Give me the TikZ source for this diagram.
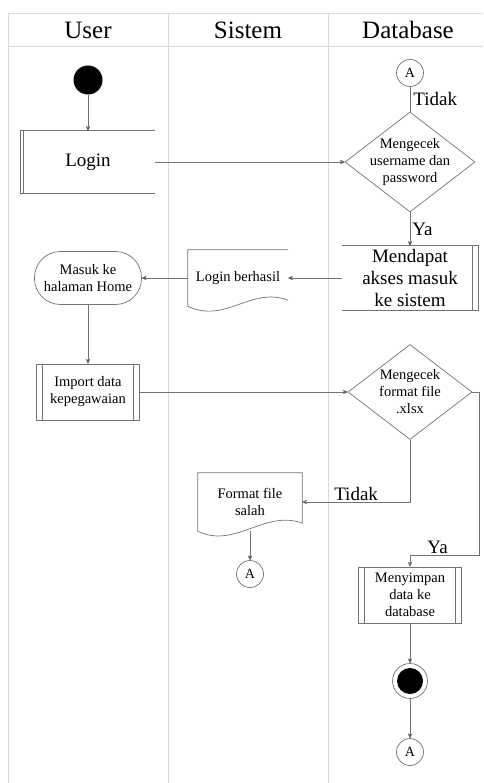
\documentclass[tikz,border=0pt]{standalone}
\usepackage{fontspec}
\setmainfont{Liberation Serif}
\usetikzlibrary{arrows,shapes.geometric}

\begin{document}
\begin{tikzpicture}[x=1pt,y=-1pt,>=stealth',auto,
    wire/.style={draw=black!55,line width=0.7pt},
    lane/.style={draw=black!15,line width=0.9pt},
    head/.style={font=\fontsize{25}{25}\selectfont},
    big/.style={font=\fontsize{19}{22}\selectfont},
    small/.style={font=\fontsize{14.5}{17}\selectfont},
    box/.style={rectangle,align=center,inner sep=0pt},
    proc/.style={box,small,wire,minimum width=103pt,minimum height=56pt,
      path picture={
        \draw[wire] ([xshift=6pt]path picture bounding box.north west) -- ([xshift=6pt]path picture bounding box.south west);
        \draw[wire] ([xshift=-6pt]path picture bounding box.north east) -- ([xshift=-6pt]path picture bounding box.south east);}},
    decision/.style={diamond,wire,small,align=center,inner sep=-14pt},
    conn/.style={circle,wire,fill=white,minimum size=27pt,inner sep=0pt,font=\fontsize{14}{14}\selectfont},
    initialdot/.style={circle,fill=black,minimum size=29pt,inner sep=0pt},
    finaldot/.style={circle,wire,minimum size=35pt,inner sep=0pt,
      path picture={\fill[black] (path picture bounding box.center) circle (13pt);}},
    lbl/.style={big,inner sep=1pt}]
  \useasboundingbox (0,0) rectangle (483,783);

  % lanes
  \draw[lane] (8,783) -- (8,13) -- (483,13);
  \draw[lane] (8,46) -- (483,46);
  \draw[lane] (168,13) -- (168,783);
  \draw[lane] (328,13) -- (328,783);
  \node[head] (user) at (88,30) {User};
  \node[head] (sistem) at (248,30) {Sistem};
  \node[head] (db) at (408,30) {Database};

  \node[initialdot] (start) at (88,80) {};
  \node[box,big,minimum width=134pt,minimum height=62pt] (login) [below of=start,node distance=82pt] {Login};
  \node[decision,minimum width=130pt,minimum height=100pt] (cek1) [right of=login,node distance=322pt] {Mengecek\\username dan\\password};
  \node[conn] (a1) [above of=cek1,node distance=89pt] {A};
  \node[box,big,minimum width=136pt,minimum height=64pt] (akses) [below of=cek1,node distance=116pt] {Mendapat\\akses masuk\\ke sistem};
  \node[box,small,minimum width=100pt,minimum height=56pt] (berhasil) [left of=akses,node distance=172pt] {Login berhasil};
  \node[box,small,wire,rounded corners=26pt,minimum width=107pt,minimum height=53pt] (home) [left of=berhasil,node distance=150pt] {Masuk ke\\halaman Home};
  \node[proc] (import) [below of=home,node distance=114pt] {Import data\\kepegawaian};
  \node[decision,minimum width=124pt,minimum height=95pt] (cek2) [right of=import,node distance=322pt] {Mengecek\\format file\\.xlsx};
  \node[box,small,minimum width=104pt,minimum height=58pt] (salah) at (250,502) {Format file\\salah};
  \node[conn] (a2) [below of=salah,node distance=72pt] {A};
  \node[proc] (simpan) [below of=cek2,node distance=203pt] {Menyimpan\\data ke\\database};
  \node[finaldot] (end) [below of=simpan,node distance=86pt] {};
  \node[conn] (a3) [below of=end,node distance=71pt] {A};
  \coordinate (bend) at (479,555);

  % box outlines
  \draw[wire] (login.north east) -- (login.north west) -- (login.south west) -- (login.south east);
  \draw[wire] ([xshift=3pt]login.north west) -- ([xshift=3pt]login.south west);
  \draw[wire] (akses.north west) -- (akses.north east) -- (akses.south east) -- (akses.south west);
  \draw[wire] ([xshift=-6pt]akses.north east) -- ([xshift=-6pt]akses.south east);
  \draw[wire] (berhasil.north east) -- (berhasil.north west) -- (berhasil.south west)
    .. controls +(37pt,-18pt) and +(-37pt,14pt) .. ([yshift=6pt]berhasil.south east);
  \draw[wire] (salah.south west) -- (salah.north west) -- (salah.north east) -- ([yshift=8pt]salah.south east)
    .. controls +(-37pt,14pt) and +(37pt,-18pt) .. (salah.south west);

  \path[->,wire]
  (start) edge (login)
  (login) edge (cek1)
  (cek1) edge [-] node[lbl,right=2pt] {Tidak} (a1)
  (cek1) edge node[lbl,right=1pt] {Ya} (akses)
  (akses) edge (berhasil)
  (berhasil) edge (home)
  (home) edge (import)
  (import) edge (cek2)
  (salah) edge (a2)
  (simpan) edge (end)
  (end) edge (a3)
  ;
  \draw[->,wire] (cek2.south) |- node[lbl,above,pos=0.75] {Tidak} (salah.east);
  \draw[->,wire] (cek2.east) -| (bend) -| node[lbl,above,pos=0.3] {Ya} (simpan.north);
\end{tikzpicture}
\end{document}
